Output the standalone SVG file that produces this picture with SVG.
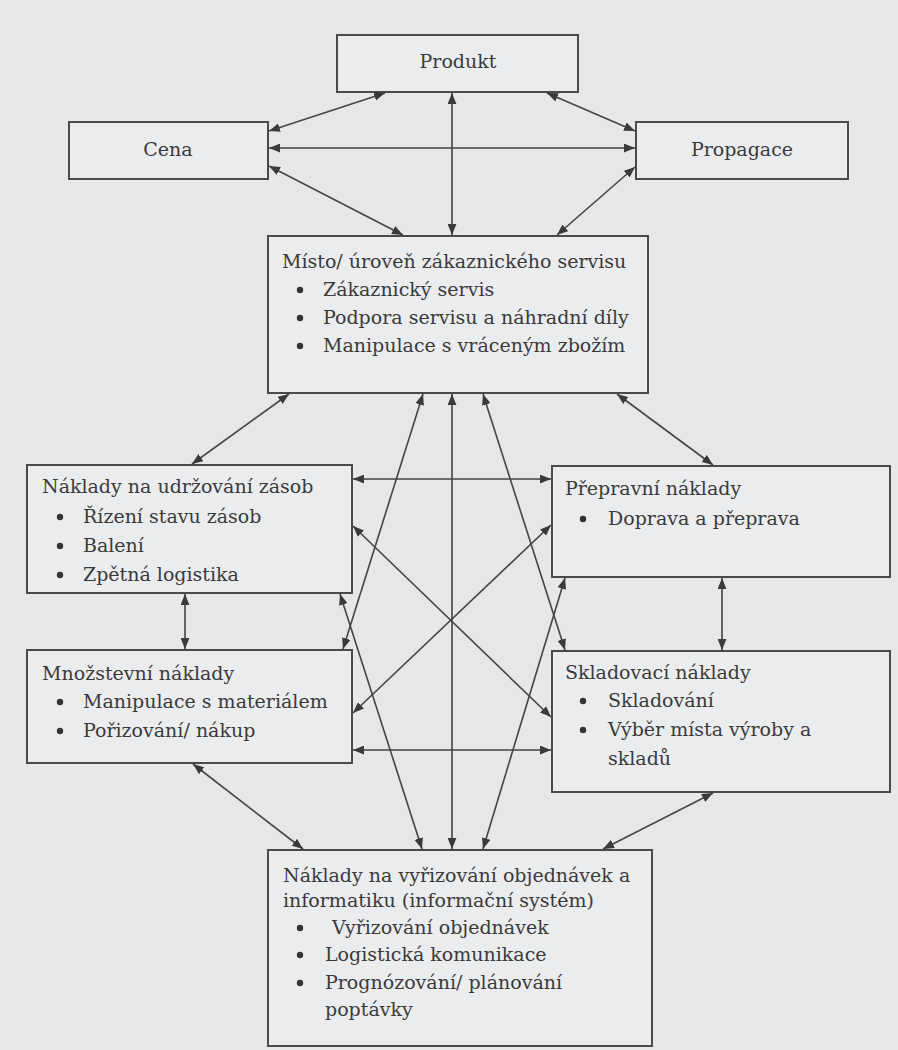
<svg xmlns="http://www.w3.org/2000/svg" width="898" height="1050" viewBox="0 0 898 1050">
<defs>
<marker id="ah" viewBox="0 0 10 8" refX="10" refY="4" markerUnits="userSpaceOnUse" markerWidth="11" markerHeight="9" orient="auto-start-reverse">
<path d="M0,0 L10,4 L0,8 z" fill="#3a3a3a"/>
</marker>
<style>
.box{fill:#ebecee;stroke:#4a4a4a;stroke-width:2}
.t{font-family:"DejaVu Serif","Liberation Serif",serif;font-size:19px;fill:#3a3a3a}
.m{text-anchor:middle}
.b{fill:#333}
.c line{stroke:#454545;stroke-width:1.6;marker-start:url(#ah);marker-end:url(#ah)}
</style>
</defs>
<rect x="0" y="0" width="898" height="1050" fill="#e6e7e9"/>

<g id="produkt"><rect class="box" x="337" y="35" width="241" height="57"/><text class="t m" x="458" y="68">Produkt</text></g>
<g id="cena"><rect class="box" x="69" y="122" width="199" height="57"/><text class="t m" x="168" y="156">Cena</text></g>
<g id="propagace"><rect class="box" x="636" y="122" width="212" height="57"/><text class="t m" x="742" y="156">Propagace</text></g>

<g id="misto"><rect class="box" x="268" y="236" width="380" height="157"/>
<text class="t" x="282" y="268">Místo/ úroveň zákaznického servisu</text>
<circle class="b" cx="300" cy="290" r="3.2"/><text class="t" x="323" y="296">Zákaznický servis</text>
<circle class="b" cx="300" cy="318" r="3.2"/><text class="t" x="323" y="324">Podpora servisu a náhradní díly</text>
<circle class="b" cx="300" cy="346" r="3.2"/><text class="t" x="323" y="352">Manipulace s vráceným zbožím</text>
</g>

<g id="udrzovani"><rect class="box" x="27" y="465" width="325" height="128"/>
<text class="t" x="42" y="493">Náklady na udržování zásob</text>
<circle class="b" cx="60" cy="517" r="3.2"/><text class="t" x="83" y="523">Řízení stavu zásob</text>
<circle class="b" cx="60" cy="546" r="3.2"/><text class="t" x="83" y="552">Balení</text>
<circle class="b" cx="60" cy="575" r="3.2"/><text class="t" x="83" y="581">Zpětná logistika</text>
</g>

<g id="prepravni"><rect class="box" x="552" y="466" width="338" height="111"/>
<text class="t" x="565" y="495">Přepravní náklady</text>
<circle class="b" cx="583" cy="519" r="3.2"/><text class="t" x="608" y="525">Doprava a přeprava</text>
</g>

<g id="mnozstevni"><rect class="box" x="27" y="650" width="325" height="113"/>
<text class="t" x="42" y="680">Množstevní náklady</text>
<circle class="b" cx="60" cy="702" r="3.2"/><text class="t" x="83" y="708">Manipulace s materiálem</text>
<circle class="b" cx="60" cy="731" r="3.2"/><text class="t" x="83" y="737">Pořizování/ nákup</text>
</g>

<g id="skladovaci"><rect class="box" x="552" y="651" width="338" height="141"/>
<text class="t" x="565" y="679">Skladovací náklady</text>
<circle class="b" cx="583" cy="701" r="3.2"/><text class="t" x="608" y="707">Skladování</text>
<circle class="b" cx="583" cy="730" r="3.2"/><text class="t" x="608" y="736">Výběr místa výroby a</text>
<text class="t" x="608" y="765">skladů</text>
</g>

<g id="objednavky"><rect class="box" x="268" y="850" width="384" height="196"/>
<text class="t" x="283" y="882">Náklady na vyřizování objednávek a</text>
<text class="t" x="283" y="907">informatiku (informační systém)</text>
<circle class="b" cx="300" cy="928" r="3.2"/><text class="t" x="332" y="934">Vyřizování objednávek</text>
<circle class="b" cx="300" cy="955" r="3.2"/><text class="t" x="325" y="961">Logistická komunikace</text>
<circle class="b" cx="300" cy="983" r="3.2"/><text class="t" x="325" y="989">Prognózování/ plánování</text>
<text class="t" x="325" y="1016">poptávky</text>
</g>

<g id="connectors" class="c">
<line x1="385" y1="93" x2="269" y2="131"/>
<line x1="547" y1="93" x2="635" y2="131"/>
<line x1="452" y1="93" x2="452" y2="235"/>
<line x1="269" y1="148" x2="635" y2="148"/>
<line x1="269" y1="166" x2="403" y2="235"/>
<line x1="635" y1="167" x2="557" y2="235"/>
<line x1="289" y1="394" x2="192" y2="464"/>
<line x1="617" y1="394" x2="713" y2="465"/>
<line x1="452" y1="394" x2="452" y2="849"/>
<line x1="423" y1="394" x2="343" y2="649"/>
<line x1="483" y1="394" x2="565" y2="650"/>
<line x1="353" y1="479" x2="551" y2="479"/>
<line x1="353" y1="526" x2="551" y2="717"/>
<line x1="353" y1="713" x2="551" y2="525"/>
<line x1="353" y1="750" x2="551" y2="750"/>
<line x1="340" y1="594" x2="422" y2="849"/>
<line x1="565" y1="578" x2="483" y2="849"/>
<line x1="193" y1="764" x2="303" y2="849"/>
<line x1="713" y1="793" x2="603" y2="849"/>
<line x1="185" y1="594" x2="185" y2="649"/>
<line x1="722" y1="578" x2="722" y2="650"/>
</g>
</svg>
